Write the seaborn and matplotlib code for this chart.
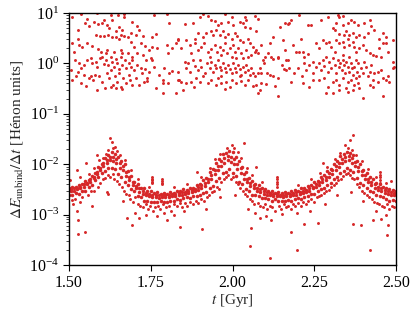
import numpy as np
import pandas as pd
import matplotlib
matplotlib.use('Agg')
import matplotlib.pyplot as plt
import seaborn as sns
from matplotlib.ticker import LogLocator, LogFormatterMathtext, NullFormatter, FixedLocator

# --- lower band (dE/dt in units of 1e-3) ---
t_a = [1.50, 1.51, 1.52, 1.53, 1.54, 1.55, 1.56, 1.57, 1.58, 1.59,
       1.60, 1.61, 1.62, 1.63, 1.64, 1.65, 1.66, 1.67, 1.68, 1.69,
       1.70, 1.71, 1.72, 1.73, 1.74, 1.75, 1.76, 1.77, 1.78, 1.79,
       1.80, 1.81, 1.82, 1.83, 1.84, 1.85, 1.86, 1.87, 1.88, 1.89,
       1.90, 1.91, 1.92, 1.93, 1.94, 1.95, 1.96, 1.97, 1.98, 1.99,
       2.00, 2.01, 2.02, 2.03, 2.04, 2.05, 2.06, 2.07, 2.08, 2.09,
       2.10, 2.11, 2.12, 2.13, 2.14, 2.15, 2.16, 2.17, 2.18, 2.19,
       2.20, 2.21, 2.22, 2.23, 2.24, 2.25, 2.26, 2.27, 2.28, 2.29,
       2.30, 2.31, 2.32, 2.33, 2.34, 2.35, 2.36, 2.37, 2.38, 2.39,
       2.40, 2.41, 2.42, 2.43, 2.44, 2.45, 2.46, 2.47, 2.48, 2.49,
       2.50]
e_a_top = [3.4, 3.6, 3.5, 3.9, 4.0, 4.6, 4.8, 5.9, 6.8, 8.9,
           10.2, 13.4, 15.0, 17.3, 15.9, 14.0, 11.5, 10.0, 7.2, 5.8,
           4.5, 4.0, 3.4, 3.3, 2.9, 2.9, 2.7, 2.8, 2.6, 2.7,
           2.6, 2.8, 2.7, 2.9, 2.9, 3.2, 3.1, 3.4, 3.4, 3.9,
           4.1, 4.8, 5.3, 6.9, 8.0, 10.8, 12.6, 15.8, 17.0, 18.2,
           17.4, 14.0, 11.8, 8.7, 7.0, 5.3, 4.7, 4.0, 3.8, 3.3,
           3.2, 2.9, 3.0, 2.7, 2.8, 2.7, 2.8, 2.7, 2.9, 3.1,
           3.0, 3.3, 3.3, 3.7, 3.8, 4.4, 4.7, 5.5, 6.0, 7.2,
           8.1, 10.0, 11.5, 14.3, 16.1, 17.8, 16.6, 15.2, 11.7, 10.0,
           7.6, 6.6, 5.5, 5.0, 4.2, 4.0, 3.5, 3.4, 3.2, 3.1,
           3.0]
e_a_low = [2.5, 2.4, 2.7, 2.6, 3.0, 3.0, 3.5, 3.9, 4.8, 5.5,
           6.8, 7.4, 8.6, 8.5, 8.2, 6.3, 5.7, 4.5, 3.9, 3.2,
           2.9, 2.3, 2.2, 1.9, 1.85, 1.75, 1.8, 1.75, 1.85, 1.8,
           1.75, 1.9, 1.85, 2.0, 1.95, 2.1, 2.2, 2.15, 2.3, 2.3,
           2.4, 2.7, 2.85, 3.4, 3.7, 4.6, 5.3, 6.7, 7.1, 8.0,
           6.8, 5.8, 4.5, 4.0, 3.2, 3.0, 2.5, 2.4, 2.3, 2.1,
           2.1, 2.05, 1.9, 2.0, 1.9, 1.85, 1.9, 1.95, 1.9, 2.0,
           2.1, 2.05, 2.2, 2.3, 2.55, 2.6, 2.9, 3.2, 3.3, 3.9,
           4.2, 5.0, 5.5, 6.6, 7.4, 8.6, 7.8, 7.0, 5.3, 4.3,
           3.9, 3.3, 3.0, 2.8, 2.45, 2.3, 2.2, 2.0, 1.9, 1.95,
           1.9]

t_b = [1.505, 1.515, 1.525, 1.535, 1.545, 1.555, 1.565, 1.575, 1.585, 1.595,
       1.605, 1.615, 1.625, 1.635, 1.645, 1.655, 1.665, 1.675, 1.685, 1.695,
       1.705, 1.715, 1.725, 1.735, 1.745, 1.755, 1.765, 1.775, 1.785, 1.795,
       1.805, 1.815, 1.825, 1.835, 1.845, 1.855, 1.865, 1.875, 1.885, 1.895,
       1.905, 1.915, 1.925, 1.935, 1.945, 1.955, 1.965, 1.975, 1.985, 1.995,
       2.005, 2.015, 2.025, 2.035, 2.045, 2.055, 2.065, 2.075, 2.085, 2.095,
       2.105, 2.115, 2.125, 2.135, 2.145, 2.155, 2.165, 2.175, 2.185, 2.195,
       2.205, 2.215, 2.225, 2.235, 2.245, 2.255, 2.265, 2.275, 2.285, 2.295,
       2.305, 2.315, 2.325, 2.335, 2.345, 2.355, 2.365, 2.375, 2.385, 2.395,
       2.405, 2.415, 2.425, 2.435, 2.445, 2.455, 2.465, 2.475, 2.485, 2.495]
e_b_mid = [2.9, 3.0, 3.2, 3.3, 3.6, 4.0, 4.4, 5.4, 6.3, 7.8,
           9.3, 10.5, 12.1, 11.5, 10.6, 8.6, 7.5, 5.9, 4.9, 3.9,
           3.3, 2.8, 2.6, 2.4, 2.3, 2.2, 2.25, 2.15, 2.2, 2.25,
           2.2, 2.3, 2.35, 2.4, 2.5, 2.6, 2.65, 2.8, 2.9, 3.1,
           3.4, 3.7, 4.4, 5.1, 6.3, 7.5, 9.4, 10.6, 11.9, 11.3,
           10.1, 8.0, 6.7, 5.2, 4.4, 3.7, 3.3, 3.0, 2.8, 2.6,
           2.5, 2.4, 2.35, 2.3, 2.3, 2.25, 2.3, 2.35, 2.4, 2.5,
           2.55, 2.7, 2.8, 3.0, 3.3, 3.5, 3.9, 4.4, 4.8, 5.6,
           6.4, 7.6, 8.8, 10.5, 11.6, 12.0, 10.8, 9.1, 7.2, 6.0,
           5.1, 4.4, 3.9, 3.4, 3.1, 2.9, 2.7, 2.55, 2.45, 2.4]
e_b_up = [3.2, 3.3, 3.4, 3.6, 4.0, 4.3, 5.0, 5.7, 7.1, 8.4,
          10.6, 12.1, 14.0, 13.9, 12.7, 10.4, 9.1, 7.1, 5.7, 4.5,
          3.7, 3.3, 2.9, 2.7, 2.55, 2.5, 2.4, 2.45, 2.5, 2.4,
          2.45, 2.55, 2.55, 2.65, 2.75, 2.85, 2.95, 3.1, 3.2, 3.5,
          3.9, 4.3, 5.2, 6.1, 7.7, 9.4, 11.6, 13.1, 14.7, 14.2,
          12.6, 10.2, 8.3, 6.4, 5.2, 4.3, 3.8, 3.4, 3.15, 2.95,
          2.8, 2.65, 2.6, 2.55, 2.5, 2.5, 2.55, 2.6, 2.65, 2.75,
          2.85, 3.0, 3.1, 3.4, 3.6, 4.1, 4.4, 5.0, 5.6, 6.6,
          7.6, 9.1, 10.6, 12.7, 14.0, 14.4, 13.1, 11.1, 8.8, 7.3,
          6.0, 5.2, 4.5, 4.0, 3.6, 3.3, 3.05, 2.9, 2.8, 2.7]

# scatter just below the band
t_below = [1.512, 1.518, 1.535, 1.541, 1.558, 1.566, 1.577, 1.589, 1.596, 1.604,
           1.611, 1.619, 1.626, 1.634, 1.639, 1.647, 1.653, 1.661, 1.668, 1.674,
           1.682, 1.688, 1.697, 1.703, 1.711, 1.718, 1.727, 1.734, 1.742, 1.749,
           1.757, 1.763, 1.771, 1.779, 1.788, 1.796, 1.806, 1.813, 1.822, 1.831,
           1.838, 1.847, 1.856, 1.862, 1.871, 1.879, 1.887, 1.896, 1.903, 1.912,
           1.921, 1.928, 1.936, 1.944, 1.952, 1.958, 1.966, 1.973, 1.981, 1.987,
           1.994, 2.003, 2.011, 2.017, 2.024, 2.031, 2.039, 2.044, 2.052, 2.061,
           2.066, 2.077, 2.083, 2.092, 2.098, 2.107, 2.114, 2.122, 2.129, 2.141,
           2.148, 2.156, 2.163, 2.171, 2.178, 2.186, 2.192, 2.201, 2.209, 2.216,
           2.224, 2.232, 2.241, 2.248, 2.257, 2.263, 2.271, 2.279, 2.287, 2.294,
           2.302, 2.309, 2.316, 2.324, 2.331, 2.339, 2.346, 2.352, 2.359, 2.366,
           2.373, 2.381, 2.388, 2.396, 2.403, 2.411, 2.418, 2.426, 2.433, 2.441,
           2.448, 2.457, 2.464, 2.472, 2.479, 2.487, 2.494,
           1.524, 1.571, 1.620, 1.664, 1.701, 1.736, 1.768, 1.792, 1.852, 1.918,
           1.962, 2.008, 2.046, 2.069, 2.103, 2.151, 2.197, 2.236, 2.282, 2.321,
           2.362, 2.399, 2.438, 2.468]
e_below = [1.6, 2.0, 1.8, 2.2, 2.4, 2.9, 3.0, 3.6, 4.2, 5.0,
           5.3, 6.0, 5.5, 6.4, 5.0, 4.6, 4.0, 3.6, 3.0, 2.6,
           2.4, 2.0, 1.8, 2.2, 1.6, 1.5, 1.4, 1.6, 1.3, 1.5,
           1.2, 1.4, 1.5, 1.3, 1.6, 1.4, 1.5, 1.2, 1.6, 1.5,
           1.7, 1.4, 1.7, 1.5, 1.8, 1.6, 1.9, 1.7, 2.0, 1.9,
           2.2, 2.5, 2.8, 3.0, 3.6, 3.2, 4.5, 5.0, 5.6, 6.0,
           5.2, 5.5, 4.4, 4.0, 3.4, 3.0, 2.6, 2.3, 2.0, 1.9,
           1.6, 1.7, 1.5, 1.4, 1.6, 1.3, 1.5, 1.4, 1.2, 1.5,
           1.3, 1.6, 1.4, 1.5, 1.3, 1.6, 1.5, 1.7, 1.5, 1.8,
           1.6, 1.9, 2.0, 1.8, 2.2, 2.3, 2.5, 2.7, 2.9, 3.1,
           3.5, 3.9, 4.3, 4.8, 5.2, 5.8, 6.3, 6.8, 6.0, 5.4,
           5.0, 4.0, 3.5, 3.0, 2.7, 2.4, 2.2, 2.0, 1.8, 1.7,
           1.6, 1.5, 1.4, 1.6, 1.3, 1.5, 1.4,
           1.2, 1.5, 2.6, 1.9, 1.1, 1.0, 0.95, 1.1, 1.2, 1.3,
           2.2, 2.5, 1.3, 1.1, 0.95, 1.05, 1.1, 1.2, 1.6, 2.4,
           2.8, 1.9, 1.2, 1.0]

# scatter just above the band
t_above = [1.535, 1.562, 1.575, 1.592, 1.603, 1.612, 1.618, 1.636, 1.648, 1.657,
           1.672, 1.690, 1.710, 1.745, 1.820, 1.860, 1.905, 1.930, 1.948, 1.962,
           1.983, 2.004, 2.016, 2.027, 2.045, 2.060, 2.090, 2.200, 2.240, 2.268,
           2.290, 2.312, 2.330, 2.352, 2.365, 2.378, 2.395, 2.415, 2.440, 2.470]
e_above = [5.5, 6.5, 8.5, 12.0, 13.5, 16.0, 19.0, 21.0, 18.0, 15.0,
           12.0, 7.5, 5.0, 3.6, 3.5, 4.0, 5.5, 8.5, 12.5, 16.0,
           21.0, 21.0, 17.5, 13.0, 8.5, 6.0, 4.5, 3.8, 5.0, 6.8,
           9.0, 12.5, 17.0, 21.0, 19.5, 15.5, 11.5, 8.0, 5.5, 4.2]

# isolated outliers and vertical streaks
t_out = [1.509, 1.528, 1.528, 1.549, 1.525, 1.552, 1.585, 1.625, 1.631, 1.641,
         1.615, 1.677, 1.692, 1.715, 1.754, 1.754, 1.754, 1.754, 1.754, 1.785,
         1.785, 1.785, 1.785, 1.800, 1.840, 1.820, 1.907, 1.890, 1.503, 2.035,
         1.997, 2.072, 2.135, 2.135, 2.135, 2.135, 2.135, 2.057, 2.054, 2.115,
         2.196, 2.180, 2.085, 2.118, 2.220, 2.260, 2.277, 2.370, 2.360, 2.345,
         2.370, 2.393, 2.420, 2.430, 2.455, 2.472, 2.476, 2.452, 2.452, 2.452,
         2.452, 2.452, 2.485]
e_out = [1.95, 0.78, 0.42, 0.46, 7.6, 10.5, 15.0, 33.0, 28.0, 22.0,
         2.8, 0.86, 0.63, 0.86, 5.6, 5.2, 4.8, 4.5, 4.3, 5.0,
         4.6, 4.3, 4.0, 0.78, 0.56, 1.0, 0.52, 7.0, 4.9, 26.0,
         24.0, 8.8, 5.6, 5.0, 4.5, 4.0, 3.6, 0.54, 0.24, 0.14,
         0.20, 0.46, 0.86, 0.78, 0.66, 0.69, 10.5, 38.0, 30.0, 24.0,
         0.66, 0.63, 0.20, 0.78, 0.82, 0.40, 0.63, 7.0, 6.2, 5.5,
         4.9, 4.3, 4.6]

# --- upper cloud (dE/dt in Henon units) ---
t_cloud1 = [1.510, 1.536, 1.556, 1.585, 1.602, 1.607, 1.628, 1.631, 1.651, 1.668,
            1.668, 1.694, 1.709, 1.760, 1.801, 1.806, 1.832, 1.826, 1.549, 1.561,
            1.577, 1.590, 1.617, 1.622, 1.645, 1.653, 1.663, 1.679, 1.689, 1.704,
            1.714, 1.726, 1.755, 1.765, 1.529, 1.526, 1.582, 1.594, 1.607, 1.620,
            1.633, 1.643, 1.653, 1.658, 1.668, 1.689, 1.699, 1.719, 1.733, 1.745,
            1.755, 1.770, 1.801, 1.804, 1.816, 1.508, 1.531, 1.541, 1.556, 1.571,
            1.590, 1.597, 1.612, 1.617, 1.638, 1.658, 1.663, 1.679, 1.694, 1.709,
            1.726, 1.735, 1.750, 1.515, 1.518, 1.531, 1.537, 1.529, 1.546, 1.556,
            1.566, 1.571, 1.582, 1.587, 1.595, 1.602, 1.607, 1.612, 1.620, 1.628,
            1.633, 1.638, 1.643, 1.648, 1.653, 1.658, 1.663, 1.671, 1.673, 1.682,
            1.689, 1.694, 1.699, 1.709, 1.719, 1.722, 1.733, 1.740, 1.745, 1.755,
            1.760, 1.775, 1.786, 1.791, 1.806, 1.816, 1.832, 1.837, 1.826, 1.786,
            1.804, 1.505, 1.510, 1.536, 1.551, 1.561, 1.573, 1.580, 1.592, 1.602,
            1.610, 1.617, 1.622, 1.628, 1.635, 1.641, 1.648, 1.653, 1.658, 1.665,
            1.673, 1.682, 1.686, 1.694, 1.704, 1.714, 1.730, 1.740, 1.663, 1.643,
            1.587, 1.566, 1.520, 1.546, 1.628, 1.765, 1.788]
e_cloud1 = [8.2, 9.6, 7.5, 9.8, 6.2, 7.3, 9.1, 7.3, 9.1, 9.6,
            8.2, 6.7, 5.4, 9.1, 9.6, 6.4, 3.0, 2.5, 6.4, 5.4,
            6.7, 6.1, 5.8, 5.0, 4.3, 5.2, 4.5, 3.4, 4.1, 3.7,
            4.6, 3.5, 3.3, 3.8, 4.5, 3.0, 3.7, 3.5, 3.5, 3.7,
            3.3, 3.4, 3.1, 3.7, 3.5, 2.7, 2.15, 2.5, 2.2, 1.85,
            2.15, 2.0, 2.3, 1.63, 2.0, 2.5, 2.3, 2.15, 2.5, 2.2,
            1.9, 1.7, 1.58, 1.85, 1.7, 1.85, 1.58, 1.63, 1.36, 1.63,
            1.47, 1.17, 1.26, 1.7, 1.17, 1.0, 0.80, 0.69, 0.93, 1.17,
            1.26, 1.0, 1.08, 0.86, 1.26, 1.36, 0.97, 1.17, 0.93, 1.36,
            1.08, 0.86, 1.2, 1.0, 0.76, 1.36, 0.93, 1.17, 0.80, 1.0,
            0.86, 1.17, 0.74, 0.93, 0.80, 0.64, 0.76, 0.51, 0.69, 1.17,
            0.86, 0.59, 0.47, 0.80, 0.64, 0.72, 0.69, 0.47, 0.26, 0.41,
            0.40, 0.74, 0.47, 0.40, 0.36, 0.51, 0.47, 0.59, 0.55, 0.43,
            0.32, 0.64, 0.51, 0.74, 0.37, 0.55, 0.43, 0.64, 0.345, 0.51,
            0.41, 0.59, 0.47, 0.37, 0.51, 0.37, 0.43, 0.45, 0.305, 0.32,
            0.30, 0.55, 0.55, 0.59, 0.335, 0.32, 0.26]

t_cloud2 = [1.910, 1.925, 1.976, 1.997, 2.037, 2.042, 2.032, 2.068, 2.078, 2.160,
            2.170, 2.144, 1.854, 1.879, 1.900, 1.935, 1.946, 1.956, 1.966, 1.986,
            2.002, 2.022, 2.037, 2.053, 2.073, 2.124, 2.114, 2.155, 1.884, 1.895,
            1.910, 1.920, 1.935, 1.940, 1.951, 1.961, 1.971, 1.976, 1.986, 1.997,
            2.007, 2.015, 2.022, 2.032, 2.048, 2.053, 2.063, 2.073, 2.088, 2.109,
            2.119, 2.139, 2.160, 2.170, 1.833, 1.844, 1.859, 1.869, 1.874, 1.884,
            1.895, 1.905, 1.913, 1.925, 1.930, 1.935, 1.946, 1.954, 1.961, 1.966,
            1.971, 1.978, 1.984, 1.991, 1.997, 2.002, 2.007, 2.012, 2.017, 2.027,
            2.032, 2.042, 2.048, 2.058, 2.068, 2.078, 2.093, 2.099, 2.083, 2.097,
            2.124, 2.139, 2.150, 2.158, 2.165, 1.854, 1.864, 1.859, 1.869, 1.879,
            1.884, 1.895, 1.900, 1.905, 1.915, 1.923, 1.930, 1.935, 1.940, 1.946,
            1.951, 1.956, 1.961, 1.966, 1.971, 1.976, 1.981, 1.986, 1.991, 1.997,
            2.002, 2.007, 2.012, 2.017, 2.022, 2.027, 2.032, 2.037, 2.042, 2.048,
            2.053, 2.058, 2.063, 2.068, 2.078, 2.088, 2.104, 2.114, 2.124, 2.139,
            2.088, 2.101, 1.833, 1.844, 1.859, 1.874, 1.882, 1.889, 1.900, 1.910,
            1.925, 1.935, 1.951, 1.956, 1.966, 1.976, 1.981, 1.991, 1.997, 2.012,
            2.027, 2.037, 2.048, 2.063, 2.073, 2.083, 2.078, 2.129, 2.139, 1.849,
            1.966, 2.022]
e_cloud2 = [9.6, 8.7, 9.6, 8.5, 8.5, 7.3, 6.2, 8.7, 7.5, 6.2,
            6.1, 5.2, 6.1, 6.2, 8.2, 7.3, 7.0, 5.8, 6.2, 6.7,
            5.8, 6.7, 5.2, 5.0, 4.3, 3.4, 2.5, 2.9, 3.1, 4.0,
            3.4, 4.0, 4.3, 3.7, 4.6, 3.7, 4.3, 3.4, 3.8, 3.1,
            4.0, 3.5, 2.9, 2.7, 3.1, 2.5, 2.15, 1.85, 2.3, 1.58,
            1.36, 1.36, 1.85, 1.17, 2.9, 2.0, 2.9, 2.3, 1.58, 2.5,
            1.85, 2.15, 2.5, 1.7, 1.36, 1.9, 2.3, 1.7, 2.15, 1.47,
            1.85, 2.5, 1.58, 2.0, 1.36, 2.3, 1.7, 1.26, 2.0, 1.58,
            1.26, 1.85, 1.36, 1.47, 1.7, 1.58, 1.17, 1.36, 0.80, 1.0,
            1.2, 1.26, 0.93, 0.76, 0.74, 1.08, 1.0, 0.80, 0.69, 1.17,
            0.89, 0.74, 1.17, 0.86, 0.64, 1.0, 0.80, 1.08, 0.69, 0.93,
            0.80, 1.17, 0.86, 0.74, 1.0, 0.80, 0.69, 0.93, 0.76, 0.64,
            1.0, 0.80, 0.69, 0.93, 0.76, 0.59, 0.86, 0.69, 0.93, 0.74,
            0.59, 0.80, 0.64, 0.55, 0.64, 0.64, 0.64, 0.59, 0.55, 0.51,
            0.41, 0.39, 0.47, 0.43, 0.40, 0.43, 0.335, 0.51, 0.43, 0.55,
            0.40, 0.47, 0.37, 0.51, 0.40, 0.305, 0.43, 0.335, 0.47, 0.40,
            0.45, 0.37, 0.47, 0.36, 0.37, 0.30, 0.255, 0.36, 0.225, 0.30,
            0.55, 0.55]

t_cloud3 = [2.174, 2.179, 2.204, 2.230, 2.240, 2.271, 2.291, 2.322, 2.327, 2.339,
            2.317, 2.337, 2.352, 2.362, 2.373, 2.383, 2.403, 2.419, 2.424, 2.434,
            2.459, 2.470, 2.490, 2.306, 2.312, 2.327, 2.342, 2.347, 2.357, 2.368,
            2.378, 2.388, 2.403, 2.414, 2.449, 2.459, 2.470, 2.210, 2.184, 2.194,
            2.204, 2.215, 2.220, 2.230, 2.245, 2.255, 2.266, 2.276, 2.286, 2.296,
            2.301, 2.312, 2.317, 2.327, 2.337, 2.342, 2.352, 2.357, 2.368, 2.373,
            2.378, 2.388, 2.398, 2.408, 2.419, 2.429, 2.439, 2.449, 2.454, 2.475,
            2.490, 2.164, 2.174, 2.189, 2.199, 2.213, 2.220, 2.225, 2.235, 2.245,
            2.255, 2.266, 2.271, 2.276, 2.281, 2.286, 2.291, 2.296, 2.301, 2.306,
            2.312, 2.317, 2.322, 2.327, 2.330, 2.335, 2.337, 2.339, 2.342, 2.345,
            2.347, 2.352, 2.355, 2.357, 2.362, 2.366, 2.368, 2.373, 2.378, 2.380,
            2.383, 2.388, 2.393, 2.398, 2.403, 2.408, 2.414, 2.419, 2.424, 2.429,
            2.434, 2.444, 2.454, 2.459, 2.468, 2.475, 2.480, 2.490, 2.495, 2.179,
            2.215, 2.235, 2.245, 2.266, 2.281, 2.291, 2.306, 2.317, 2.327, 2.337,
            2.347, 2.352, 2.362, 2.373, 2.383, 2.388, 2.398, 2.419, 2.431, 2.444,
            2.459, 2.286, 2.306, 2.327, 2.368, 2.352, 2.378]
e_cloud3 = [6.2, 7.3, 9.1, 5.8, 5.8, 7.3, 8.5, 9.1, 8.2, 8.7,
            6.2, 5.8, 6.2, 7.3, 6.7, 5.8, 6.4, 7.3, 5.5, 4.5,
            4.1, 3.4, 2.9, 5.0, 4.6, 3.8, 3.7, 4.3, 3.7, 4.0,
            3.4, 3.7, 3.4, 4.0, 3.1, 2.5, 2.5, 3.1, 2.3, 1.7,
            1.7, 1.7, 1.36, 1.54, 1.08, 2.5, 2.0, 2.9, 2.5, 2.7,
            2.15, 1.7, 2.9, 2.5, 2.7, 2.15, 3.1, 2.3, 2.7, 2.15,
            1.7, 2.0, 2.3, 1.85, 1.58, 1.47, 1.40, 2.0, 1.36, 1.7,
            1.08, 1.17, 0.80, 0.64, 0.80, 0.55, 1.0, 0.74, 0.93, 0.64,
            0.86, 1.0, 0.74, 1.17, 0.89, 1.36, 0.69, 1.08, 0.80, 1.26,
            0.93, 0.64, 1.17, 0.86, 1.0, 0.74, 1.17, 1.47, 0.93, 0.64,
            1.08, 0.86, 1.36, 0.69, 1.0, 0.80, 0.59, 0.86, 1.17, 0.69,
            1.0, 0.55, 0.80, 0.64, 1.08, 0.86, 0.55, 0.69, 0.93, 0.47,
            0.64, 0.69, 0.74, 0.51, 0.47, 0.55, 0.43, 0.80, 0.86, 0.43,
            0.41, 0.345, 0.47, 0.47, 0.51, 0.345, 0.43, 0.47, 0.37, 0.51,
            0.32, 0.43, 0.47, 0.37, 0.40, 0.32, 0.21, 0.37, 0.345, 0.43,
            0.225, 0.26, 0.26, 0.30, 0.30, 0.275, 0.51]

x_ticks = [1.50, 1.75, 2.00, 2.25, 2.50]
x_tick_labels = ['1.50', '1.75', '2.00', '2.25', '2.50']

# --- assemble ---
band_parts = [(t_a, e_a_top), (t_a, e_a_low), (t_b, e_b_mid), (t_b, e_b_up)]
band = pd.concat([pd.DataFrame({'t': t, 'dE': np.array(e) * 1e-3}) for t, e in band_parts],
                 ignore_index=True)

frames = [pd.DataFrame({'t': t, 'dE': np.array(e) * 1e-3})
          for t, e in [(t_below, e_below), (t_above, e_above), (t_out, e_out)]]
for t, e in [(t_cloud1, e_cloud1), (t_cloud2, e_cloud2), (t_cloud3, e_cloud3)]:
    frames.append(pd.DataFrame({'t': t, 'dE': e}))
loose = pd.concat(frames, ignore_index=True)

sns.set_style('ticks')
plt.rcParams['font.family'] = ['Liberation Serif', 'DejaVu Serif']
plt.rcParams['mathtext.fontset'] = 'stix'
plt.rcParams['font.size'] = 11

red = '#d62728'
fig = plt.figure(figsize=(4.16, 3.12), dpi=100)
ax = fig.add_axes([69 / 416, 47 / 312, 327 / 416, 252 / 312])

sns.scatterplot(data=band, x='t', y='dE', color=red, s=6.5, linewidth=0,
                ax=ax, legend=False)
sns.scatterplot(data=loose, x='t', y='dE', color=red, s=4.5, linewidth=0,
                ax=ax, legend=False)

ax.set_yscale('log')
ax.set_xlim(1.5, 2.5)
ax.set_ylim(1e-4, 10)
ax.xaxis.set_major_locator(FixedLocator(x_ticks))
ax.set_xticklabels(x_tick_labels)
ax.yaxis.set_major_locator(LogLocator(base=10, numticks=10))
ax.yaxis.set_major_formatter(LogFormatterMathtext())
ax.yaxis.set_minor_locator(LogLocator(base=10, subs=np.arange(2, 10), numticks=20))
ax.yaxis.set_minor_formatter(NullFormatter())

ax.tick_params(axis='both', which='major', direction='out', length=4, width=0.8,
               labelsize=11.5, color='black', labelcolor='black', pad=3)
ax.tick_params(axis='y', which='minor', direction='out', length=2, width=0.6)
for sp in ax.spines.values():
    sp.set_visible(True)
    sp.set_color('black')
    sp.set_linewidth(1.0)

ax.set_xlabel(r'$t$ [Gyr]', fontsize=11, labelpad=1)
ax.set_ylabel(r'$\Delta E_{\rm unbind}/\Delta t$ [Hénon units]', fontsize=11, labelpad=3)

fig.savefig('out.png', dpi=100)
